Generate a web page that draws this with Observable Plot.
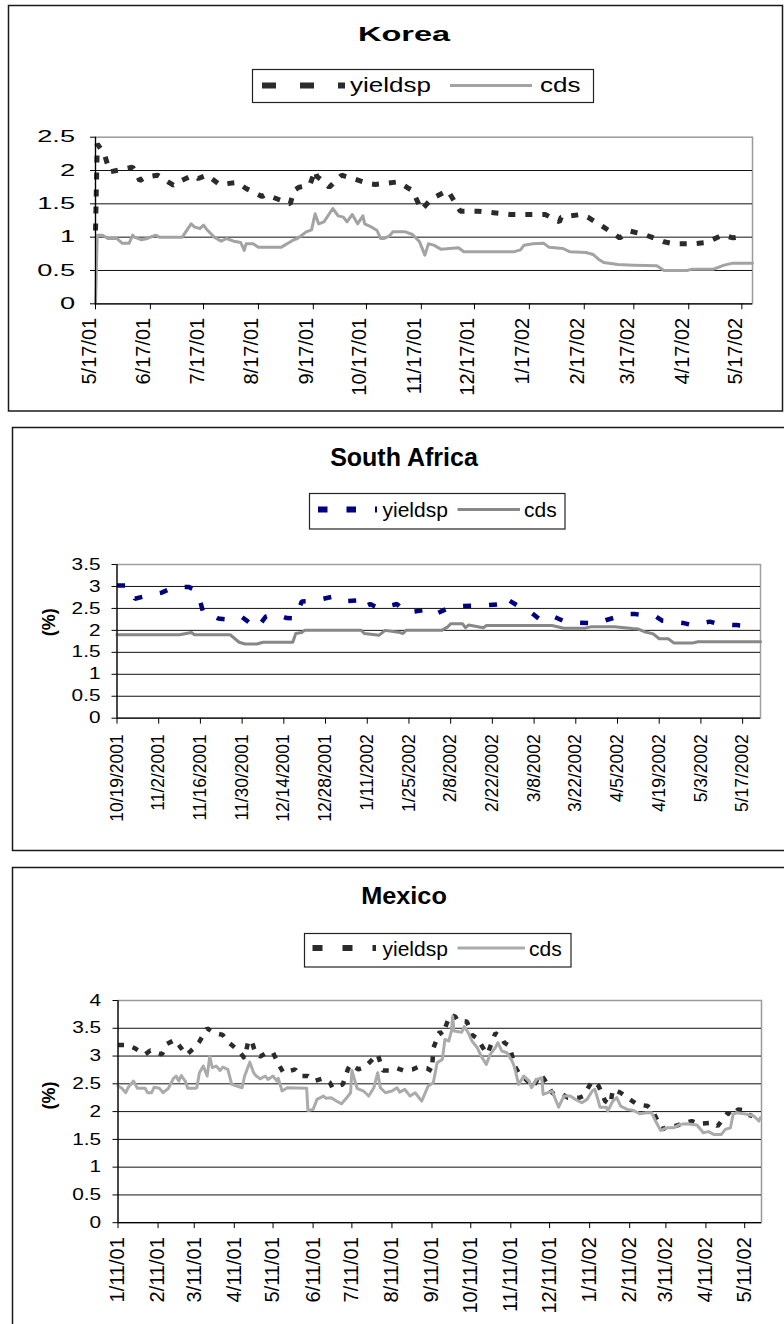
<!DOCTYPE html>
<html>
<head>
<meta charset="utf-8">
<title>Yield spread and CDS: Korea, South Africa, Mexico</title>
<script src="https://cdn.jsdelivr.net/npm/d3@7"></script>
<script src="https://cdn.jsdelivr.net/npm/@observablehq/plot@0.6"></script>
<style>
  html, body { margin: 0; padding: 0; background: #fff; }
  #page { position: relative; width: 784px; height: 1324px; overflow: hidden; background: #fff; }
  #page svg { position: absolute; left: 0; top: 0; overflow: visible; }
</style>
</head>
<body>
<div id="page"></div>
<script>
const FONT = '"Liberation Sans", Arial, Helvetica, sans-serif';
const seriesNames = ["yieldsp", "cds"];

// ---------- Korea ----------
const koreaTickLabels = ["5/17/01","6/17/01","7/17/01","8/17/01","9/17/01","10/17/01","11/17/01","12/17/01","1/17/02","2/17/02","3/17/02","4/17/02","5/17/02"];
const koreaYTicks = [0, 0.5, 1, 1.5, 2, 2.5];
const koreaYieldDates = ["5/17/01","5/18/01","5/22/01","5/25/01","6/7/01","6/11/01","6/14/01","6/21/01","6/30/01","7/3/01","7/11/01","7/14/01","7/19/01","7/26/01","8/5/01","8/10/01","8/19/01","8/21/01","9/4/01","9/6/01","9/9/01","9/15/01","9/18/01","9/19/01","9/23/01","9/26/01","10/3/01","10/19/01","10/22/01","11/4/01","11/10/01","11/12/01","11/17/01","11/23/01","12/2/01","12/9/01","12/19/01","1/6/02","1/26/02","2/3/02","2/4/02","2/15/02","2/19/02","2/28/02","3/9/02","3/15/02","3/23/02","4/3/02","4/9/02","4/19/02","4/27/02","5/6/02","5/12/02","5/15/02","5/19/02"];
const koreaYieldValues = [1.1,2.4,2.25,1.98,2.05,1.85,1.9,1.93,1.78,1.83,1.93,1.88,1.93,1.79,1.82,1.73,1.61,1.64,1.5,1.7,1.75,1.78,2.0,1.91,1.83,1.75,1.93,1.8,1.79,1.83,1.73,1.7,1.41,1.58,1.7,1.39,1.39,1.34,1.34,1.23,1.3,1.34,1.3,1.15,0.99,1.09,1.04,0.93,0.9,0.9,0.92,1.03,0.99,1.0,0.98];
const koreaCdsDates = ["5/17/01","5/18/01","5/21/01","5/24/01","5/29/01","6/1/01","6/5/01","6/7/01","6/8/01","6/12/01","6/15/01","6/20/01","6/22/01","7/5/01","7/10/01","7/12/01","7/15/01","7/17/01","7/19/01","7/23/01","7/27/01","7/30/01","8/3/01","8/7/01","8/9/01","8/10/01","8/14/01","8/17/01","8/30/01","9/6/01","9/8/01","9/13/01","9/16/01","9/18/01","9/20/01","9/23/01","9/28/01","10/1/01","10/4/01","10/6/01","10/9/01","10/12/01","10/15/01","10/16/01","10/20/01","10/23/01","10/25/01","10/27/01","10/30/01","11/1/01","11/8/01","11/12/01","11/16/01","11/19/01","11/21/01","11/24/01","11/28/01","12/8/01","12/11/01","1/8/02","1/12/02","1/14/02","1/19/02","1/25/02","1/28/02","2/5/02","2/9/02","2/18/02","2/22/02","2/25/02","2/28/02","3/8/02","3/17/02","3/30/02","4/3/02","4/16/02","4/19/02","5/1/02","5/7/02","5/12/02","5/23/02"];
const koreaCdsValues = [0,1.03,1.03,0.98,0.98,0.91,0.91,1.03,1.0,0.96,0.98,1.03,1.0,1.0,1.2,1.15,1.13,1.18,1.11,1.0,0.94,0.98,0.94,0.92,0.8,0.9,0.9,0.85,0.85,0.96,0.98,1.08,1.11,1.35,1.2,1.23,1.43,1.32,1.3,1.23,1.34,1.2,1.32,1.2,1.15,1.1,0.98,0.98,1.02,1.08,1.08,1.04,0.93,0.73,0.9,0.88,0.82,0.84,0.78,0.78,0.81,0.88,0.9,0.91,0.85,0.83,0.78,0.77,0.74,0.67,0.62,0.59,0.58,0.57,0.5,0.5,0.52,0.52,0.58,0.61,0.61];

// ---------- South Africa ----------
const saTickLabels = ["10/19/2001","11/2/2001","11/16/2001","11/30/2001","12/14/2001","12/28/2001","1/11/2002","1/25/2002","2/8/2002","2/22/2002","3/8/2002","3/22/2002","4/5/2002","4/19/2002","5/3/2002","5/17/2002"];
const saYTicks = [0, 0.5, 1, 1.5, 2, 2.5, 3, 3.5];
const saYieldDates = ["10/19/2001","10/23/2001","10/25/2001","10/29/2001","11/3/2001","11/7/2001","11/12/2001","11/15/2001","11/17/2001","11/18/2001","11/22/2001","11/26/2001","11/30/2001","12/2/2001","12/5/2001","12/8/2001","12/11/2001","12/15/2001","12/18/2001","12/20/2001","12/24/2001","12/30/2001","1/2/2002","1/8/2002","1/9/2002","1/12/2002","1/15/2002","1/21/2002","1/24/2002","1/30/2002","2/2/2002","2/7/2002","2/10/2002","2/15/2002","2/18/2002","2/25/2002","2/26/2002","3/4/2002","3/7/2002","3/10/2002","3/14/2002","3/19/2002","3/22/2002","3/29/2002","4/1/2002","4/8/2002","4/11/2002","4/18/2002","4/20/2002","4/27/2002","4/30/2002","5/6/2002","5/9/2002","5/15/2002","5/18/2002"];
const saYieldValues = [3.02,3.02,2.72,2.79,2.86,2.98,2.99,2.9,2.39,2.42,2.27,2.24,2.3,2.2,2.05,2.32,2.37,2.28,2.27,2.66,2.67,2.76,2.66,2.68,2.5,2.6,2.5,2.6,2.4,2.46,2.34,2.5,2.55,2.56,2.56,2.6,2.75,2.5,2.41,2.24,2.33,2.18,2.18,2.16,2.23,2.37,2.37,2.31,2.22,2.17,2.12,2.2,2.14,2.12,2.1];
const saCdsDates = ["10/19/2001","11/9/2001","11/13/2001","11/14/2001","11/26/2001","11/29/2001","12/1/2001","12/5/2001","12/7/2001","12/17/2001","12/18/2001","12/20/2001","12/21/2001","1/9/2002","1/10/2002","1/15/2002","1/17/2002","1/22/2002","1/23/2002","1/24/2002","2/5/2002","2/7/2002","2/8/2002","2/12/2002","2/13/2002","2/14/2002","2/19/2002","2/20/2002","3/14/2002","3/18/2002","3/25/2002","3/27/2002","4/4/2002","4/10/2002","4/12/2002","4/14/2002","4/17/2002","4/19/2002","4/22/2002","4/24/2002","4/30/2002","5/2/2002","5/23/2002"];
const saCdsValues = [1.9,1.9,1.95,1.9,1.9,1.73,1.69,1.69,1.73,1.73,1.93,1.95,2.0,2.0,1.93,1.89,2.0,1.95,1.93,2.0,2.0,2.08,2.15,2.15,2.06,2.12,2.06,2.11,2.11,2.05,2.05,2.08,2.08,2.04,2.03,1.97,1.92,1.81,1.81,1.71,1.71,1.74,1.74];

// ---------- Mexico ----------
const mexicoTickLabels = ["1/11/01","2/11/01","3/11/01","4/11/01","5/11/01","6/11/01","7/11/01","8/11/01","9/11/01","10/11/01","11/11/01","12/11/01","1/11/02","2/11/02","3/11/02","4/11/02","5/11/02"];
const mexicoYTicks = [0, 0.5, 1, 1.5, 2, 2.5, 3, 3.5, 4];
const mexicoYieldDates = ["1/11/01","1/18/01","1/24/01","2/1/01","2/5/01","2/14/01","2/18/01","2/24/01","3/1/01","3/5/01","3/12/01","3/15/01","3/21/01","3/25/01","3/28/01","4/2/01","4/6/01","4/12/01","4/15/01","4/19/01","4/22/01","4/25/01","4/27/01","5/1/01","5/6/01","5/11/01","5/16/01","5/19/01","5/28/01","6/1/01","6/7/01","6/12/01","6/19/01","6/24/01","6/26/01","7/4/01","7/8/01","7/10/01","7/16/01","7/21/01","7/27/01","7/31/01","8/4/01","8/10/01","8/15/01","8/20/01","8/27/01","8/31/01","9/7/01","9/11/01","9/12/01","9/14/01","9/17/01","9/19/01","9/25/01","9/29/01","10/1/01","10/8/01","10/12/01","10/16/01","10/22/01","10/24/01","10/30/01","11/4/01","11/6/01","11/10/01","11/14/01","11/17/01","11/24/01","11/28/01","12/4/01","12/7/01","12/13/01","12/15/01","12/21/01","12/25/01","1/3/02","1/6/02","1/13/02","1/18/02","1/23/02","1/27/02","1/29/02","2/4/02","2/13/02","2/17/02","2/25/02","3/1/02","3/7/02","3/9/02","3/12/02","3/18/02","3/31/02","4/5/02","4/17/02","4/20/02","4/28/02","5/1/02","5/6/02","5/11/02","5/13/02","5/17/02"];
const mexicoYieldValues = [3.2,3.2,3.14,3.03,3.1,3.03,3.22,3.29,3.14,3.02,3.17,3.26,3.5,3.44,3.41,3.38,3.26,3.14,3.08,2.96,3.29,3.23,3.08,2.99,3.06,3.06,2.82,2.7,2.76,2.64,2.64,2.55,2.6,2.52,2.43,2.49,2.77,2.85,2.76,2.8,2.94,3.03,2.74,2.74,2.78,2.74,2.76,2.8,2.78,2.73,3.14,3.26,3.44,3.38,3.74,3.71,3.63,3.62,3.38,3.32,3.09,3.04,3.41,3.34,3.24,3.18,2.82,2.7,2.55,2.44,2.67,2.58,2.34,2.31,2.31,2.25,2.25,2.28,2.55,2.46,2.19,2.13,2.4,2.34,2.19,2.13,2.1,2.01,1.71,1.68,1.74,1.74,1.83,1.78,1.8,1.74,1.98,1.92,2.04,2.02,1.95,1.92];
const mexicoCdsDates = ["1/11/01","1/14/01","1/17/01","1/19/01","1/23/01","1/26/01","2/1/01","2/3/01","2/6/01","2/8/01","2/12/01","2/15/01","2/19/01","2/23/01","2/25/01","2/27/01","3/1/01","3/4/01","3/6/01","3/12/01","3/13/01","3/15/01","3/18/01","3/21/01","3/23/01","3/25/01","3/28/01","3/31/01","4/2/01","4/6/01","4/9/01","4/13/01","4/17/01","4/19/01","4/23/01","4/26/01","4/28/01","5/1/01","5/5/01","5/7/01","5/11/01","5/14/01","5/15/01","5/18/01","5/22/01","6/6/01","6/7/01","6/11/01","6/14/01","6/19/01","6/21/01","6/25/01","6/29/01","7/3/01","7/7/01","7/10/01","7/11/01","7/13/01","7/15/01","7/20/01","7/24/01","7/28/01","7/31/01","8/2/01","8/6/01","8/11/01","8/15/01","8/17/01","8/21/01","8/25/01","8/29/01","9/3/01","9/8/01","9/12/01","9/15/01","9/19/01","9/21/01","9/24/01","9/26/01","9/27/01","9/28/01","10/4/01","10/6/01","10/9/01","10/12/01","10/16/01","10/19/01","10/23/01","10/26/01","10/30/01","11/1/01","11/4/01","11/8/01","11/12/01","11/14/01","11/17/01","11/21/01","11/25/01","11/27/01","12/1/01","12/5/01","12/6/01","12/13/01","12/15/01","12/18/01","12/22/01","12/27/01","12/31/01","1/5/02","1/9/02","1/13/02","1/15/02","1/17/02","1/19/02","1/24/02","1/25/02","1/29/02","2/1/02","2/4/02","2/9/02","2/14/02","2/19/02","2/24/02","2/28/02","3/3/02","3/7/02","3/12/02","3/17/02","3/22/02","3/27/02","4/4/02","4/9/02","4/13/02","4/17/02","4/23/02","4/26/02","4/30/02","5/2/02","5/5/02","5/13/02","5/18/02","5/22/02","5/23/02"];
const mexicoCdsValues = [2.46,2.42,2.34,2.44,2.55,2.42,2.42,2.34,2.34,2.44,2.42,2.34,2.42,2.6,2.64,2.55,2.65,2.55,2.42,2.42,2.43,2.7,2.82,2.64,2.99,2.79,2.82,2.74,2.8,2.76,2.49,2.46,2.43,2.64,2.89,2.7,2.64,2.59,2.64,2.58,2.64,2.55,2.6,2.37,2.43,2.42,2.02,2.04,2.22,2.28,2.24,2.25,2.19,2.14,2.25,2.34,2.74,2.58,2.42,2.37,2.28,2.43,2.7,2.43,2.34,2.37,2.43,2.35,2.4,2.28,2.34,2.19,2.46,2.52,2.88,2.94,3.3,3.27,3.45,3.71,3.45,3.43,3.53,3.42,3.27,3.15,3.0,2.85,3.03,3.15,3.24,3.09,3.06,2.91,2.79,2.49,2.64,2.55,2.43,2.58,2.61,2.31,2.37,2.25,2.08,2.28,2.28,2.22,2.16,2.22,2.37,2.4,2.25,2.08,2.08,2.01,2.19,2.25,2.1,2.04,2.02,1.96,1.98,1.98,1.83,1.66,1.71,1.71,1.77,1.78,1.76,1.62,1.64,1.59,1.59,1.68,1.71,1.95,1.98,1.95,1.92,1.83,1.89];

// ---------- helpers ----------
function parseDate(s) {
  const [m, d, y] = s.split("/").map(Number);
  return new Date(y < 100 ? 2000 + y : y, m - 1, d);
}
function series(dates, values) {
  return dates.map((d, i) => ({date: parseDate(d), value: values[i]}));
}

// ---------- panel settings ----------
const panels = [
  {
    title: "Korea", tickLabels: koreaTickLabels, yTicks: koreaYTicks, start: "5/17/01", end: "5/23/02",
    yieldData: series(koreaYieldDates, koreaYieldValues), cdsData: series(koreaCdsDates, koreaCdsValues),
    box: [8.5, 5.5, 774, 405.5], titleY: 41, titleSize: 21, titleStretch: 1.55,
    legend: {box: [252.5, 69.5, 341, 33], y: 85.5, dash: [262, 345], dashArray: "14,24", text1: 350, line: [450, 532], text2: 540, baseline: 92, size: 20, stretch: 1.3},
    svgTop: 126, height: 273, marginTop: 10.7, marginBottom: 95.7, left: 95, right: 752,
    yieldColor: "#2b2b2b", yieldWidth: 5, yieldDash: "7,10",
    cdsColor: "#a3a3a3", cdsWidth: 3, frameColor: "#9a9a9a",
    yFont: 16, yStretch: 1.7, yPad: 15.5,
    xFont: 20, xPad: 8, xLineAnchor: "bottom", unit: null
  },
  {
    title: "South Africa", tickLabels: saTickLabels, yTicks: saYTicks, start: "10/19/2001", end: "5/23/2002",
    yieldData: series(saYieldDates, saYieldValues), cdsData: series(saCdsDates, saCdsValues),
    box: [12.5, 427.5, 800, 423], titleY: 466, titleSize: 25, titleStretch: 1,
    legend: {box: [309.5, 493.5, 255.5, 35.5], y: 509.5, dash: [318, 377], dashArray: "9.5,19", text1: 382.5, line: [457.5, 520], text2: 524, baseline: 517, size: 21, stretch: 1},
    svgTop: 554, height: 290, marginTop: 10, marginBottom: 126.3, left: 116.5, right: 760,
    yieldColor: "#000080", yieldWidth: 4.5, yieldDash: "8,18",
    cdsColor: "#888888", cdsWidth: 3, frameColor: "#a0a0a0",
    yFont: 16, yStretch: 1.3, yPad: 11.5,
    xFont: 17.5, xPad: 10, xLineAnchor: "middle", unit: "(%)", unitDx: -67.5, unitDy: -5
  },
  {
    title: "Mexico", tickLabels: mexicoTickLabels, yTicks: mexicoYTicks, start: "1/11/01", end: "5/24/02",
    yieldData: series(mexicoYieldDates, mexicoYieldValues), cdsData: series(mexicoCdsDates, mexicoCdsValues),
    box: [12.5, 867.5, 800, 500], titleY: 904, titleSize: 23, titleStretch: 1.1,
    legend: {box: [304.5, 933.5, 266.5, 33.5], y: 948, dash: [312.5, 376], dashArray: "10,20", text1: 382.5, line: [457.5, 525], text2: 529, baseline: 955.5, size: 21, stretch: 1},
    svgTop: 990, height: 334, marginTop: 10, marginBottom: 101.8, left: 117.5, right: 761,
    yieldColor: "#2b2b2b", yieldWidth: 4.5, yieldDash: "6,9",
    cdsColor: "#ababab", cdsWidth: 3, frameColor: "#9a9a9a",
    yFont: 16, yStretch: 1.3, yPad: 11.8,
    xFont: 20, xPad: 8.5, xLineAnchor: "middle", unit: "(%)", unitDx: -68.3, unitDy: -2
  }
];

const page = d3.select("#page");

// Boxes, titles and legends
const deco = page.append("svg").attr("width", 784).attr("height", 1324)
  .attr("font-family", FONT).style("font-family", FONT);

function stretchedText(g, x, y, str, size, weight, sx, anchor) {
  return g.append("text")
    .attr("transform", `translate(${x},${y}) scale(${sx},1)`)
    .attr("text-anchor", anchor)
    .attr("font-size", size)
    .attr("font-weight", weight)
    .attr("fill", "#000")
    .text(str);
}

for (const p of panels) {
  const [bx, by, bw, bh] = p.box;
  deco.append("rect").attr("x", bx).attr("y", by).attr("width", bw).attr("height", bh)
    .attr("fill", "none").attr("stroke", "#1a1a1a").attr("stroke-width", 1.5);
  stretchedText(deco, 404, p.titleY, p.title, p.titleSize, "bold", p.titleStretch, "middle");

  const L = p.legend;
  const [lx, ly, lw, lh] = L.box;
  deco.append("rect").attr("x", lx).attr("y", ly).attr("width", lw).attr("height", lh)
    .attr("fill", "#fff").attr("stroke", "#222").attr("stroke-width", 1.2);
  deco.append("line").attr("x1", L.dash[0]).attr("x2", L.dash[1]).attr("y1", L.y).attr("y2", L.y)
    .attr("stroke", p.yieldColor).attr("stroke-width", 6).attr("stroke-dasharray", L.dashArray);
  stretchedText(deco, L.text1, L.baseline, seriesNames[0], L.size, "normal", L.stretch, "start");
  deco.append("line").attr("x1", L.line[0]).attr("x2", L.line[1]).attr("y1", L.y).attr("y2", L.y)
    .attr("stroke", p.cdsColor).attr("stroke-width", 3);
  stretchedText(deco, L.text2, L.baseline, seriesNames[1], L.size, "normal", L.stretch, "start");
}

// The three line charts
for (const p of panels) {
  const ticks = p.tickLabels.map(parseDate);
  const labelOf = new Map(ticks.map((t, i) => [+t, p.tickLabels[i]]));
  const y0 = p.yTicks[0], y1 = p.yTicks[p.yTicks.length - 1];
  const x0 = parseDate(p.start);

  const marks = [
    Plot.frame({stroke: p.frameColor, strokeWidth: 1.5}),
    Plot.ruleY(p.yTicks.filter(v => v > y0 && v < y1), {stroke: "#111", strokeWidth: 1}),
    Plot.line(p.yieldData, {x: "date", y: "value", stroke: p.yieldColor, strokeWidth: p.yieldWidth,
      strokeDasharray: p.yieldDash, strokeLinecap: "butt", strokeLinejoin: "miter"}),
    Plot.line(p.cdsData, {x: "date", y: "value", stroke: p.cdsColor, strokeWidth: p.cdsWidth,
      strokeLinejoin: "round"}),
    Plot.ruleX([x0], {stroke: "#000", strokeWidth: 1.2}),
    Plot.ruleY([y0], {stroke: "#000", strokeWidth: 1.2}),
    Plot.axisY(p.yTicks, {tickSize: 5, tickPadding: p.yPad, fontSize: p.yFont, label: null,
      tickFormat: d => String(d)}),
    Plot.axisX(ticks, {tickSize: 6, tickRotate: -90, tickPadding: p.xPad, lineAnchor: p.xLineAnchor,
      textAnchor: "end", fontSize: p.xFont, label: null, tickFormat: d => labelOf.get(+d)})
  ];
  if (p.unit) {
    marks.push(Plot.text([p.unit], {frameAnchor: "left", dx: p.unitDx, dy: p.unitDy, rotate: -90,
      fontWeight: "bold", fontSize: 18, fill: "#000"}));
  }

  const svg = Plot.plot({
    width: 784, height: p.height,
    marginLeft: p.left, marginRight: 784 - p.right,
    marginTop: p.marginTop, marginBottom: p.marginBottom,
    x: {type: "time", domain: [x0, parseDate(p.end)]},
    y: {domain: [y0, y1]},
    marks
  });
  svg.setAttribute("font-family", FONT);
  svg.style.fontFamily = FONT;
  svg.style.background = "transparent";
  svg.style.color = "#000";
  svg.style.position = "absolute";
  svg.style.left = "0px";
  svg.style.top = p.svgTop + "px";
  svg.style.maxWidth = "none";

  // widen the value labels on the left axis about their right edge
  d3.select(svg).selectAll('[aria-label="y-axis tick label"] text').each(function () {
    const t = d3.select(this);
    const x = +t.attr("x") || 0, y = +t.attr("y") || 0;
    const tr = t.attr("transform") || "";
    t.attr("transform", `${tr} translate(${x},${y}) scale(${p.yStretch},1) translate(${-x},${-y})`);
  });

  page.node().appendChild(svg);
}
</script>
</body>
</html>
